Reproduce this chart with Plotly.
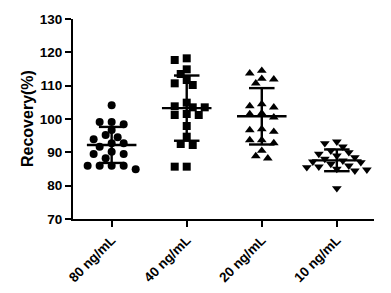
import numpy as np
import plotly.graph_objects as go

categories = ["80 ng/mL", "40 ng/mL", "20 ng/mL", "10 ng/mL"]
g80 = [104.1, 99.1, 98.4, 99.1, 96.7, 95.2, 93.9, 94.5, 92.7, 91.7,
       92.7, 89.5, 89.5, 90.2, 88.2, 86.0, 86.0, 84.9, 86.0, 86.0]
g40 = [117.7, 118.2, 114.9, 113.5, 111.7, 110.2, 110.7, 104.9, 103.5, 103.5,
       101.5, 101.2, 101.2, 97.9, 94.7, 92.5, 92.2, 85.7, 85.7, 103.8]
g20 = [114.5, 113.7, 111.9, 112.1, 110.7, 103.5, 103.9, 104.5, 101.5, 101.7,
       100.5, 96.2, 96.7, 93.7, 93.7, 90.5, 88.2, 88.9, 97.0, 92.8]
g10 = [93.2, 92.7, 91.7, 90.5, 90.0, 89.5, 89.0, 88.5, 88.0, 87.5,
       87.2, 87.0, 86.5, 86.0, 85.7, 85.5, 85.0, 84.8, 84.5, 79.2]
groups = [g80, g40, g20, g10]
symbols = ["circle", "square", "triangle-up", "triangle-down"]
y_ticks = [70, 80, 90, 100, 110, 120, 130]
y_title = "Recovery(%)"

# pixel scale estimates for beeswarm layout
PX_PER_X = 75.0
PX_PER_Y = 200.0 / 60.0
STEP = 6.0
DIAM = 7.5


def swarm(vals):
    order = np.argsort(vals)[::-1]
    placed = []
    offs = np.zeros(len(vals))
    for i in order:
        yp = vals[i] * PX_PER_Y
        k = 0
        while True:
            cands = [0] if k == 0 else [-k, k]
            done = False
            for c in cands:
                xp = c * STEP
                if all((xp - px) ** 2 + (yp - py) ** 2 >= DIAM ** 2 for px, py in placed):
                    placed.append((xp, yp))
                    offs[i] = xp / PX_PER_X
                    done = True
                    break
            if done:
                break
            k += 1
    return offs


fig = go.Figure()
for idx, (vals, sym) in enumerate(zip(groups, symbols)):
    vals = np.array(vals)
    offs = swarm(vals)
    fig.add_trace(go.Scatter(
        x=idx + offs, y=vals, mode="markers",
        marker=dict(symbol=sym, size=8.5 if "triangle" in sym else 8, color="black"),
        showlegend=False, hoverinfo="y"))
    m = vals.mean()
    s = vals.std(ddof=1)
    xs = [idx - 0.33, idx + 0.33, None,
          idx, idx, None,
          idx - 0.17, idx + 0.17, None,
          idx - 0.17, idx + 0.17]
    ys = [m, m, None,
          m - s, m + s, None,
          m + s, m + s, None,
          m - s, m - s]
    fig.add_trace(go.Scatter(x=xs, y=ys, mode="lines",
                             line=dict(color="black", width=2.4),
                             showlegend=False, hoverinfo="skip"))

fig.update_layout(
    width=391, height=293,
    margin=dict(l=73, r=17, t=19, b=74),
    paper_bgcolor="white", plot_bgcolor="white",
    font=dict(family="Liberation Sans, Arial", size=13, color="black"),
)
fig.add_annotation(
    text=y_title, textangle=-90, showarrow=False,
    xref="paper", yref="paper", x=(27 - 73) / 301, y=0.5,
    xanchor="center", yanchor="middle",
    font=dict(size=16, family="Liberation Sans, Arial", weight="bold", color="black"),
)
fig.update_xaxes(
    range=[-0.515, 3.495], automargin=False,
    tickmode="array", tickvals=list(range(len(categories))), ticktext=categories,
    tickangle=-45, tickfont=dict(size=13.5, family="Liberation Sans, Arial", weight="bold"),
    showline=True, linecolor="black", linewidth=2,
    ticks="outside", ticklen=6, tickwidth=2, tickcolor="black",
    showgrid=False, zeroline=False,
)
fig.update_yaxes(
    range=[70, 130], automargin=False,
    tickmode="array", tickvals=y_ticks, ticktext=[str(v) for v in y_ticks],
    tickfont=dict(size=13.5, family="Liberation Sans, Arial", weight="bold"),
    showline=True, linecolor="black", linewidth=2,
    ticks="outside", ticklen=6, tickwidth=2, tickcolor="black",
    showgrid=False, zeroline=False,
)
fig.write_html("out.html")
